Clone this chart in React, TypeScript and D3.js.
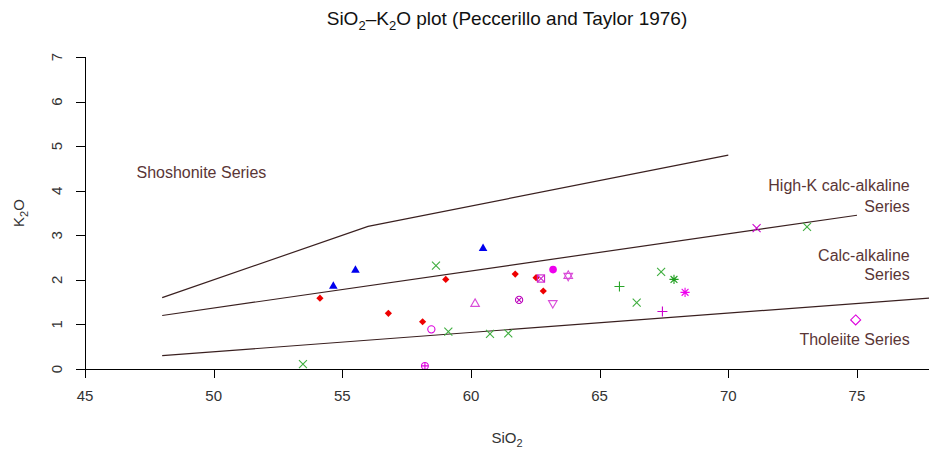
import React from "react";
import * as d3 from "d3";

const W = 929;
const H = 450;

// Axis ticks
const xTicks = [45, 50, 55, 60, 65, 70, 75];
const yTicks = [0, 1, 2, 3, 4, 5, 6, 7];

// Peccerillo & Taylor (1976) field boundaries
const shoshoniteSiO2 = [48, 56, 70];
const shoshoniteK2O = [1.6, 3.2, 4.8];
const highKSiO2 = [48, 75];
const highKK2O = [1.2, 3.45];
const tholeiiteSiO2 = [48, 78];
const tholeiiteK2O = [0.3, 1.6];

// Samples, one pair of arrays per symbol group
const blueTriSiO2 = [54.65, 55.51, 60.47];
const blueTriK2O = [1.87, 2.23, 2.72];
const redDiamondSiO2 = [54.13, 56.79, 58.12, 59.02, 61.72, 62.53, 62.81];
const redDiamondK2O = [1.59, 1.25, 1.06, 2.01, 2.13, 2.05, 1.75];
const greenCrossSiO2 = [53.47, 58.64, 59.12, 60.74, 61.45, 66.44, 67.39, 73.06];
const greenCrossK2O = [0.11, 2.32, 0.84, 0.79, 0.8, 1.49, 2.18, 3.19];
const greenPlusSiO2 = [65.77];
const greenPlusK2O = [1.85];
const greenStarSiO2 = [67.89];
const greenStarK2O = [2.01];
const pinkCircleSiO2 = [58.46];
const pinkCircleK2O = [0.89];
const pinkTriUpSiO2 = [60.16];
const pinkTriUpK2O = [1.47];
const pinkTriDownSiO2 = [63.18];
const pinkTriDownK2O = [1.47];
const pinkSquareXSiO2 = [62.72];
const pinkSquareXK2O = [2.03];
const pinkCirclePlusSiO2 = [58.21];
const pinkCirclePlusK2O = [0.07];
const pinkDavidSiO2 = [63.78];
const pinkDavidK2O = [2.09];
const pinkCircleXSiO2 = [61.87];
const pinkCircleXK2O = [1.55];
const pinkDotSiO2 = [63.19];
const pinkDotK2O = [2.23];
const pinkStarSiO2 = [68.32];
const pinkStarK2O = [1.72];
const pinkPlusSiO2 = [67.44];
const pinkPlusK2O = [1.29];
const pinkCrossSiO2 = [71.1];
const pinkCrossK2O = [3.16];
const pinkDiamondSiO2 = [74.95];
const pinkDiamondK2O = [1.1];

type Group = { sio2: number[]; k2o: number[]; pch: number; color: string };

const groups: Group[] = [
  { sio2: blueTriSiO2, k2o: blueTriK2O, pch: 17, color: "#0000ee" },
  { sio2: redDiamondSiO2, k2o: redDiamondK2O, pch: 18, color: "#ee0000" },
  { sio2: greenCrossSiO2, k2o: greenCrossK2O, pch: 4, color: "#3fae3f" },
  { sio2: greenPlusSiO2, k2o: greenPlusK2O, pch: 3, color: "#2aa52a" },
  { sio2: greenStarSiO2, k2o: greenStarK2O, pch: 8, color: "#1f9f1f" },
  { sio2: pinkCircleSiO2, k2o: pinkCircleK2O, pch: 1, color: "#dd00dd" },
  { sio2: pinkTriUpSiO2, k2o: pinkTriUpK2O, pch: 2, color: "#d94cd9" },
  { sio2: pinkTriDownSiO2, k2o: pinkTriDownK2O, pch: 6, color: "#d94cd9" },
  { sio2: pinkSquareXSiO2, k2o: pinkSquareXK2O, pch: 7, color: "#cc22cc" },
  { sio2: pinkCirclePlusSiO2, k2o: pinkCirclePlusK2O, pch: 10, color: "#dd00dd" },
  { sio2: pinkDavidSiO2, k2o: pinkDavidK2O, pch: 11, color: "#d94cd9" },
  { sio2: pinkCircleXSiO2, k2o: pinkCircleXK2O, pch: 13, color: "#bb00bb" },
  { sio2: pinkDotSiO2, k2o: pinkDotK2O, pch: 16, color: "#ee00ee" },
  { sio2: pinkStarSiO2, k2o: pinkStarK2O, pch: 8, color: "#ee00ee" },
  { sio2: pinkPlusSiO2, k2o: pinkPlusK2O, pch: 3, color: "#cc00cc" },
  { sio2: pinkCrossSiO2, k2o: pinkCrossK2O, pch: 4, color: "#cc00cc" },
  { sio2: pinkDiamondSiO2, k2o: pinkDiamondK2O, pch: 5, color: "#dd00dd" },
];

const plotLeft = 85;
const plotRight = 929;
const plotTop = 57;
const plotBottom = 369;

const x = d3.scaleLinear().domain([45, 77.8]).range([plotLeft, plotRight]);
const y = d3.scaleLinear().domain([0, 7]).range([plotBottom, plotTop]);

const labelColor = "#5a3636";
const lineColor = "#3a2020";

function Marker({ pch, cx, cy, color }: { pch: number; cx: number; cy: number; color: string }) {
  const sw = 1.1;
  const common = { fill: "none", stroke: color, strokeWidth: sw };
  const t = `translate(${cx},${cy})`;
  const s = 4;
  const triUp = "M0,-4.6L4.3,2.9L-4.3,2.9Z";
  const triDown = "M0,4.6L4.3,-2.9L-4.3,-2.9Z";
  const xPath = `M${-s},${-s}L${s},${s}M${-s},${s}L${s},${-s}`;
  const plusPath = `M${-5},0L${5},0M0,${-5}L0,${5}`;
  switch (pch) {
    case 1:
      return <circle cx={cx} cy={cy} r={3.6} {...common} />;
    case 2:
      return <path transform={t} d={triUp} {...common} />;
    case 3:
      return <path transform={t} d={plusPath} {...common} />;
    case 4:
      return <path transform={t} d={xPath} {...common} />;
    case 5:
      return <path transform={t} d="M0,-5L5,0L0,5L-5,0Z" {...common} />;
    case 6:
      return <path transform={t} d={triDown} {...common} />;
    case 7:
      return (
        <g transform={t}>
          <rect x={-3.6} y={-3.6} width={7.2} height={7.2} {...common} />
          <path d="M-3.6,-3.6L3.6,3.6M-3.6,3.6L3.6,-3.6" {...common} />
        </g>
      );
    case 8:
      return (
        <path
          transform={t}
          d={`M-4.6,0L4.6,0M0,-4.6L0,4.6M-3.4,-3.4L3.4,3.4M-3.4,3.4L3.4,-3.4`}
          {...common}
        />
      );
    case 10:
      return (
        <g transform={t}>
          <circle r={3.4} {...common} />
          <path d="M-3.4,0L3.4,0M0,-3.4L0,3.4" {...common} />
        </g>
      );
    case 11:
      return (
        <g transform={t}>
          <path d="M0,-5L4.3,2.5L-4.3,2.5Z" {...common} />
          <path d="M0,5L4.3,-2.5L-4.3,-2.5Z" {...common} />
        </g>
      );
    case 13:
      return (
        <g transform={t}>
          <circle r={3.6} {...common} />
          <path d="M-2.6,-2.6L2.6,2.6M-2.6,2.6L2.6,-2.6" {...common} />
        </g>
      );
    case 16:
      return <circle cx={cx} cy={cy} r={3.8} fill={color} />;
    case 17:
      return <path transform={t} d="M0,-4.3L4.3,3.2L-4.3,3.2Z" fill={color} />;
    case 18:
      return <path transform={t} d="M0,-3.6L3.6,0L0,3.6L-3.6,0Z" fill={color} />;
    default:
      return null;
  }
}

const boundary = d3
  .line<[number, number]>()
  .x((d) => x(d[0]))
  .y((d) => y(d[1]));

const zip = (a: number[], b: number[]): [number, number][] => a.map((v, i) => [v, b[i]]);

export default function App() {
  const font = "'Liberation Sans', Arial, sans-serif";
  return (
    <svg
      width={W}
      height={H}
      viewBox={`0 0 ${W} ${H}`}
      style={{ position: "absolute", left: 0, top: 0, background: "#fff" }}
      fontFamily={font}
    >
      <rect width={W} height={H} fill="#fff" />
      <defs>
        <clipPath id="plotArea">
          <rect x={plotLeft} y={plotTop} width={plotRight - plotLeft} height={plotBottom - plotTop} />
        </clipPath>
      </defs>

      {/* Title */}
      <text x={(plotLeft + plotRight) / 2} y={25} textAnchor="middle" fontSize={19} fill="#111">
        SiO
        <tspan fontSize={13} dy={5}>2</tspan>
        <tspan dy={-5}>–K</tspan>
        <tspan fontSize={13} dy={5}>2</tspan>
        <tspan dy={-5}>O plot (Peccerillo and Taylor 1976)</tspan>
      </text>

      {/* Field boundaries */}
      <g clipPath="url(#plotArea)" fill="none" stroke={lineColor} strokeWidth={1.2}>
        <path d={boundary(zip(shoshoniteSiO2, shoshoniteK2O)) || ""} />
        <path d={boundary(zip(highKSiO2, highKK2O)) || ""} />
        <path d={boundary(zip(tholeiiteSiO2, tholeiiteK2O)) || ""} />
      </g>

      {/* Field names */}
      <g fontSize={16} fill={labelColor}>
        <text x={x(47)} y={y(4.42)} dy="0.35em">Shoshonite Series</text>
        <text x={x(77.05)} y={y(4.12)} dy="0.35em" textAnchor="end">High-K calc-alkaline</text>
        <text x={x(77.05)} y={y(3.65)} dy="0.35em" textAnchor="end">Series</text>
        <text x={x(77.05)} y={y(2.55)} dy="0.35em" textAnchor="end">Calc-alkaline</text>
        <text x={x(77.05)} y={y(2.13)} dy="0.35em" textAnchor="end">Series</text>
        <text x={x(77.05)} y={y(0.67)} dy="0.35em" textAnchor="end">Tholeiite Series</text>
      </g>

      {/* Samples */}
      <g>
        {groups.map((g, gi) =>
          g.sio2.map((v, i) => (
            <Marker key={`${gi}-${i}`} pch={g.pch} cx={x(v)} cy={y(g.k2o[i])} color={g.color} />
          ))
        )}
      </g>

      {/* X axis */}
      <g stroke="#000" strokeWidth={1}>
        <line x1={plotLeft} x2={plotRight} y1={plotBottom + 0.5} y2={plotBottom + 0.5} />
        {xTicks.map((t) => (
          <line key={t} x1={Math.round(x(t)) + 0.5} x2={Math.round(x(t)) + 0.5} y1={plotBottom} y2={plotBottom + 9} />
        ))}
      </g>
      <g fontSize={15} fill="#333" textAnchor="middle">
        {xTicks.map((t) => (
          <text key={t} x={x(t)} y={plotBottom + 32}>
            {t}
          </text>
        ))}
      </g>
      <text x={(plotLeft + plotRight) / 2} y={443} textAnchor="middle" fontSize={15} fill="#333">
        SiO<tspan fontSize={11} dy={4}>2</tspan>
      </text>

      {/* Y axis */}
      <g stroke="#000" strokeWidth={1}>
        <line x1={plotLeft + 0.5} x2={plotLeft + 0.5} y1={plotTop} y2={plotBottom} />
        {yTicks.map((t) => (
          <line key={t} x1={plotLeft - 9} x2={plotLeft} y1={Math.round(y(t)) + 0.5} y2={Math.round(y(t)) + 0.5} />
        ))}
      </g>
      <g fontSize={15} fill="#333" textAnchor="middle">
        {yTicks.map((t) => (
          <text key={t} transform={`translate(${plotLeft - 23},${y(t)}) rotate(-90)`}>
            {t}
          </text>
        ))}
      </g>
      <text
        transform={`translate(24,${(plotTop + plotBottom) / 2}) rotate(-90)`}
        textAnchor="middle"
        fontSize={15}
        fill="#333"
      >
        K<tspan fontSize={11} dy={4}>2</tspan>
        <tspan dy={-4}>O</tspan>
      </text>
    </svg>
  );
}
